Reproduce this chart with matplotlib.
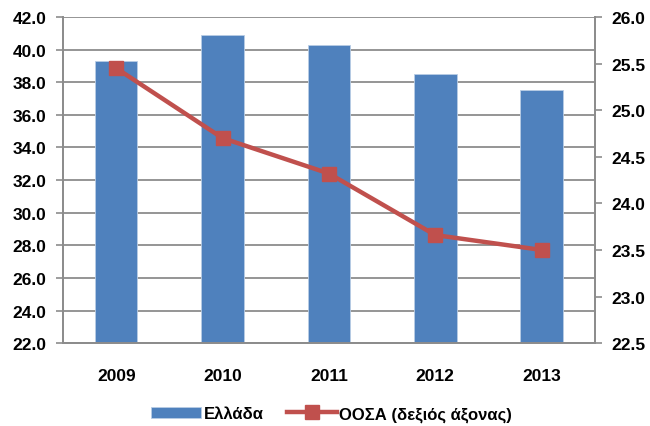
import matplotlib
matplotlib.use('Agg')
import matplotlib.pyplot as plt
import numpy as np

years = ['2009', '2010', '2011', '2012', '2013']
greece = [39.3, 40.9, 40.3, 38.5, 37.5]
oecd = [25.45, 24.7, 24.32, 23.66, 23.5]
left_ticks = np.arange(22.0, 42.01, 2.0)
right_ticks = np.arange(22.5, 26.01, 0.5)

plt.rcParams['font.family'] = ['Liberation Sans', 'DejaVu Sans']
plt.rcParams['font.weight'] = 'bold'

fig = plt.figure(figsize=(6.5, 4.27), dpi=100)
ax = fig.add_axes([0.097, 0.194, 0.818, 0.764])
ax2 = ax.twinx()

x = np.arange(len(years))
grid_col = '#8c8c8c'

ax.bar(x, greece, width=0.4, color='#4F81BD', edgecolor='#b9cde5', linewidth=0.6,
       label='Ελλάδα', zorder=2)
ax.set_ylim(22, 42)
ax.set_yticks(left_ticks)
ax.set_yticklabels(['%.1f' % v for v in left_ticks], fontweight='bold')
ax.set_xlim(-0.5, len(years) - 0.5)
ax.set_xticks(x)
ax.set_xticklabels(years, fontweight='bold')
ax.yaxis.grid(True, color=grid_col, linewidth=1.3, zorder=0)
ax.set_axisbelow(True)

ax2.plot(x, oecd, color='#C0504D', linewidth=3.2, marker='s', markersize=10,
         label='ΟΟΣΑ (δεξιός άξονας)', zorder=3)
ax2.set_ylim(22.5, 26.0)
ax2.set_yticks(right_ticks)
ax2.set_yticklabels(['%.1f' % v for v in right_ticks], fontweight='bold')

for a in (ax, ax2):
    a.spines['top'].set_visible(False)
    for s in ('left', 'right', 'bottom'):
        a.spines[s].set_color(grid_col)
        a.spines[s].set_linewidth(1.3)
    a.tick_params(axis='y', colors=grid_col, labelcolor='black', labelsize=12.5,
                  length=5, width=1.2, pad=7)
ax.tick_params(axis='x', length=0, labelsize=12.5, pad=18)

h1, l1 = ax.get_legend_handles_labels()
h2, l2 = ax2.get_legend_handles_labels()
fig.legend(h1 + h2, l1 + l2, loc='lower center', bbox_to_anchor=(0.51, -0.025),
           ncol=2, frameon=False, prop={'size': 12, 'weight': 'bold'},
           handlelength=3.0, columnspacing=1.4, handletextpad=0.15)

fig.savefig('out.png', dpi=100)
